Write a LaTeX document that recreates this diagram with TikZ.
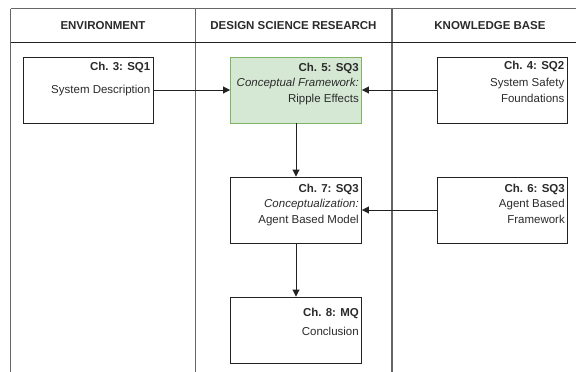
\documentclass[tikz,border=0pt]{standalone}
\usepackage{fontspec}
\setmainfont{Liberation Sans}
\usetikzlibrary{arrows.meta}

\definecolor{lanegray}{HTML}{666666}
\definecolor{boxline}{HTML}{222222}
\definecolor{txt}{HTML}{2B2B2B}
\definecolor{greenfill}{HTML}{D5E8D4}
\definecolor{greenline}{HTML}{82B366}

\tikzset{
  lane/.style={draw=lanegray, line width=1.2pt},
  headsep/.style={draw=boxline, line width=0.9pt},
  head/.style={font=\fontsize{11.5}{13}\selectfont\bfseries, text=txt, inner sep=0pt},
  chbox/.style={draw=boxline, line width=0.9pt, fill=white, minimum width=130pt, minimum height=66pt, inner sep=0pt},
  greenbox/.style={chbox, draw=greenline, fill=greenfill},
  ln/.style={font=\fontsize{11.5}{13}\selectfont, text=txt, inner sep=0pt, anchor=base east},
  lnb/.style={ln, font=\fontsize{11.5}{13}\selectfont\bfseries},
  lni/.style={ln, font=\fontsize{11.5}{13}\selectfont\itshape},
  flow/.style={draw=boxline, line width=0.9pt, -{Triangle[length=7pt,width=7pt]}}
}

\begin{document}
\begin{tikzpicture}[x=1pt, y=-1pt]
  \useasboundingbox (0,0) rectangle (576,372);

  % swimlane frame
  \draw[lane] (10.5,8.5) -- (576,8.5);
  \draw[lane] (10.5,8.5) -- (10.5,372);
  \draw[lane] (195.5,8.5) -- (195.5,372);
  \draw[lane] (392,8.5) -- (392,372);
  \draw[headsep] (10.5,42.3) -- (576,42.3);

  % lane titles
  \node[head] (hEnv) at (103,25.5) {ENVIRONMENT};
  \node[head] (hDsr) at (293.5,25.5) {DESIGN SCIENCE RESEARCH};
  \node[head] (hKb) at (490,25.5) {KNOWLEDGE BASE};

  % chapter boxes
  \node[chbox] (b3) at (88,90) {};
  \node[greenbox, minimum width=131pt] (b5) at (296,90) {};
  \node[chbox] (b4) at (502,90) {};
  \node[chbox, minimum width=131pt] (b7) at (296,210) {};
  \node[chbox] (b6) at (502.5,210) {};
  \node[chbox, minimum width=131pt] (b8) at (296,330) {};

  % box texts
  \node[lnb] (t3a) at (150.5,70) {Ch. 3: SQ1};
  \node[ln]  (t3b) at (150.5,93.5) {System Description};

  \node[lnb] (t5a) at (359,71) {Ch. 5: SQ3};
  \node[lni] (t5b) at (359,86.5) {Conceptual Framework:};
  \node[ln]  (t5c) at (359,102) {Ripple Effects};

  \node[lnb] (t4a) at (564.5,69.5) {Ch. 4: SQ2};
  \node[ln]  (t4b) at (564.5,86.5) {System Safety};
  \node[ln]  (t4c) at (564.5,102) {Foundations};

  \node[lnb] (t7a) at (359,192.5) {Ch. 7: SQ3};
  \node[lni] (t7b) at (359,207.5) {Conceptualization:};
  \node[ln]  (t7c) at (359,223) {Agent Based Model};

  \node[lnb] (t6a) at (565,192.5) {Ch. 6: SQ3};
  \node[ln]  (t6b) at (565,207.5) {Agent Based};
  \node[ln]  (t6c) at (565,223) {Framework};

  \node[lnb] (t8a) at (359,316) {Ch. 8: MQ};
  \node[ln]  (t8b) at (359,335) {Conclusion};

  % connectors
  \draw[flow] (b3.east) -- (b5.west);
  \draw[flow] (b4.west) -- (b5.east);
  \draw[flow] (b5.south) -- (b7.north);
  \draw[flow] (b6.west) -- (b7.east);
  \draw[flow] (b7.south) -- (b8.north);
\end{tikzpicture}
\end{document}
